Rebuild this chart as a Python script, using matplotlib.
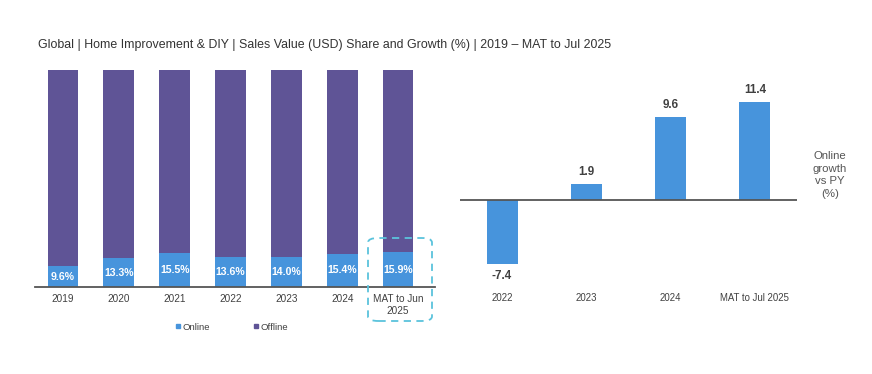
import matplotlib.pyplot as plt
from matplotlib.lines import Line2D
from matplotlib.patches import FancyBboxPatch
from matplotlib.transforms import blended_transform_factory

plt.rcParams["font.family"] = ["Liberation Sans", "DejaVu Sans"]

# share chart
share_labels = ["2019", "2020", "2021", "2022", "2023", "2024", "MAT to Jun\n2025"]
online_share = [9.6, 13.3, 15.5, 13.6, 14.0, 15.4, 15.9]
offline_share = [100 - v for v in online_share]

# growth chart
growth_labels = ["2022", "2023", "2024", "MAT to Jul 2025"]
online_growth = [-7.4, 1.9, 9.6, 11.4]

BLUE = "#4794dc"
PURPLE = "#5f5496"
TEXT = "#404040"

W, H = 872, 374
fig = plt.figure(figsize=(W / 100, H / 100), dpi=100)


def fx(px):
    return px / W


def fy(py):
    return 1 - py / H


fig.text(fx(38), fy(45), "Global | Home Improvement & DIY | Sales Value (USD) Share and Growth (%) | 2019 \u2013 MAT to Jul 2025",
         fontsize=8.95, color="#333333", va="center", ha="left")

# left: stacked share bars
ax1 = fig.add_axes([fx(35), fy(287), fx(435) - fx(35), fy(70) - fy(287)])
x1 = list(range(len(share_labels)))
ax1.bar(x1, online_share, width=0.55, color=BLUE, zorder=2)
ax1.bar(x1, offline_share, bottom=online_share, width=0.55, color=PURPLE, zorder=2)
for i, v in enumerate(online_share):
    ax1.text(i, v / 2, f"{v:.1f}%", ha="center", va="center", color="white",
             fontsize=7.6, fontweight="bold")
ax1.set_xlim(-0.5, 6.66)
ax1.set_ylim(0, 100)
for s in ["top", "right", "left"]:
    ax1.spines[s].set_visible(False)
ax1.spines["bottom"].set_color("#555555")
ax1.spines["bottom"].set_linewidth(1.3)
ax1.set_yticks([])
ax1.set_xticks(x1)
ax1.set_xticklabels(share_labels, fontsize=7.2, color=TEXT, linespacing=1.25)
ax1.tick_params(axis="x", length=0, pad=5)

# highlight box around the latest period
box = FancyBboxPatch((fx(368), fy(321)), fx(432) - fx(368), fy(238) - fy(321),
                     boxstyle="round,pad=0,rounding_size=0.012", transform=fig.transFigure,
                     fill=False, edgecolor="#5bc3dc", linestyle=(0, (4, 3)), linewidth=1.3,
                     zorder=5)
fig.patches.append(box)

# legend
handles = [Line2D([], [], marker="s", linestyle="", color=BLUE, markersize=3.5, label="Online"),
           Line2D([], [], marker="s", linestyle="", color=PURPLE, markersize=3.5, label="Offline")]
leg = fig.legend(handles=handles, loc="center", bbox_to_anchor=(fx(231), fy(327)), ncol=2,
                 frameon=False, fontsize=6.8, handletextpad=0.05, columnspacing=4.5,
                 handlelength=0.8)
for t in leg.get_texts():
    t.set_color(TEXT)

# right: online growth bars
ax2 = fig.add_axes([fx(460), fy(290), fx(797) - fx(460), fy(70) - fy(290)])
x2 = list(range(len(growth_labels)))
ax2.bar(x2, online_growth, width=0.37, color=BLUE, zorder=2)
ax2.axhline(0, color="#555555", linewidth=1.3, zorder=3)
ax2.set_xlim(-0.5, 3.5)
ax2.set_ylim(-10.47, 15.1)
ax2.axis("off")
for i, v in enumerate(online_growth):
    off = 0.7 if v >= 0 else -0.7
    ax2.text(i, v + off, f"{v:.1f}", ha="center", va="bottom" if v >= 0 else "top",
             fontsize=8.4, fontweight="bold", color=TEXT)
tr = blended_transform_factory(ax2.transData, fig.transFigure)
for i, lab in enumerate(growth_labels):
    ax2.text(i, fy(298), lab, transform=tr, ha="center", va="center", fontsize=6.9, color=TEXT)

fig.text(fx(830), fy(175), "Online\ngrowth\nvs PY\n(%)", ha="center", va="center",
         fontsize=8.2, color="#555555", linespacing=1.3)

fig.savefig("out.png", dpi=100, facecolor="white")
